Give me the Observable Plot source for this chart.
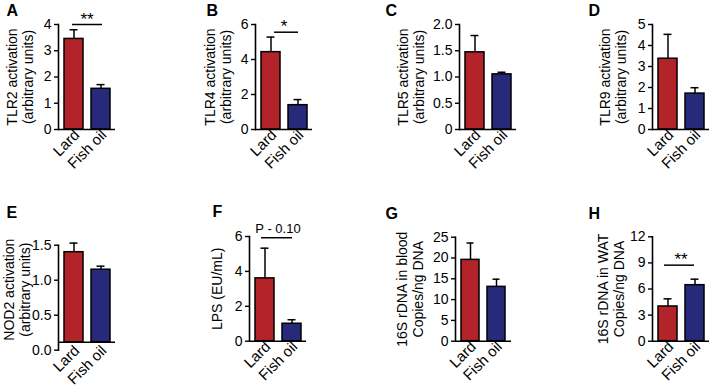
<!DOCTYPE html>
<html><head><meta charset="utf-8">
<script src="https://cdn.jsdelivr.net/npm/d3@7"></script>
<script src="https://cdn.jsdelivr.net/npm/@observablehq/plot@0.6"></script>
<style>
body{margin:0;background:#fff;}
#fig{position:relative;width:709px;height:388px;background:#fff;}
#fig > svg{position:absolute;}
</style></head><body><div id="fig"></div>
<script>
// ---- data ----
const groups = ["Lard", "Fish oil"];
const panelIds = ["A", "B", "C", "D", "E", "F", "G", "H"];
const yLabels = [
  "TLR2 activation\n(arbitrary units)",
  "TLR4 activation\n(arbitrary units)",
  "TLR5 activation\n(arbitrary units)",
  "TLR9 activation\n(arbitrary units)",
  "NOD2 activation\n(arbitrary units)",
  "LPS (EU/mL)",
  "16S rDNA in blood\nCopies/ng DNA",
  "16S rDNA in WAT\nCopies/ng DNA"
];
const lardMean = [3.45, 4.42, 1.47, 3.37, 1.40, 3.60, 19.55, 3.99];
const lardSem  = [0.35, 0.86, 0.32, 1.16, 0.13, 1.73, 4.05, 0.88];
const fishMean = [1.55, 1.39, 1.05, 1.71, 1.15, 1.00, 13.06, 6.44];
const fishSem  = [0.16, 0.32, 0.04, 0.28, 0.05, 0.23, 1.84, 0.69];
const yTickLabels = [
  ["0", "1", "2", "3", "4"],
  ["0", "2", "4", "6"],
  ["0", "0.5", "1.0", "1.5", "2.0"],
  ["0", "1", "2", "3", "4", "5"],
  ["0.0", "0.5", "1.0", "1.5"],
  ["0", "2", "4", "6"],
  ["0", "5", "10", "15", "20", "25"],
  ["0", "3", "6", "9", "12"]
];
const axisBase = [0, 0, 0, 0, 0.114, 0, 0, 0];
const sigLabels = ["**", "*", null, null, null, "P - 0.10", null, "**"];
const sigLevels = [4.0, 5.56, null, null, null, 5.93, null, 8.74];

// ---- layout (pixels) ----
const colLeft = [0, 177, 354, 531];
const colWidth = [177, 177, 177, 178];
const rowTop = [0, 194];
const rowHeight = 194;
const layout = [
  {axisX: 58,  xEnd: 115, top: 24,    zero: 129,   labelDx: -39, labelDy: 0,  catDy: 0,  sigInset: [14, 13], letterX: 6,   letterY: 15},
  {axisX: 255, xEnd: 312, top: 24,    zero: 129,   labelDx: -38, labelDy: 0,  catDy: 0,  sigInset: [19, 14], letterX: 206, letterY: 15},
  {axisX: 459, xEnd: 516, top: 24,    zero: 129,   labelDx: -49, labelDy: 0,  catDy: 0,  sigInset: [0, 0],   letterX: 385, letterY: 15},
  {axisX: 652, xEnd: 709, top: 24,    zero: 129,   labelDx: -40, labelDy: 0,  catDy: 0,  sigInset: [0, 0],   letterX: 588, letterY: 15},
  {axisX: 58,  xEnd: 115, top: 244.7, zero: 349.7, labelDx: -42, labelDy: -8, catDy: -5, sigInset: [0, 0],   letterX: 6,   letterY: 217},
  {axisX: 249, xEnd: 306, top: 236,   zero: 340.7, labelDx: -33, labelDy: 0,  catDy: 0,  sigInset: [12, 14], letterX: 212, letterY: 216},
  {axisX: 455, xEnd: 511, top: 236.7, zero: 340.7, labelDx: -46, labelDy: 0,  catDy: 0,  sigInset: [0, 0],   letterX: 385, letterY: 218},
  {axisX: 652, xEnd: 709, top: 236.3, zero: 340.7, labelDx: -42, labelDy: 0,  catDy: 0,  sigInset: [12, 15], letterX: 588, letterY: 218}
];
const colors = ["#b3232a", "#27297a"];
const font = "'Liberation Sans', Arial, Helvetica, sans-serif";

const fig = document.getElementById("fig");

panelIds.forEach((id, i) => {
  const col = i % 4, row = Math.floor(i / 4);
  const L = layout[i];
  const left = colLeft[col], top = rowTop[row], width = colWidth[col];
  const ticks = yTickLabels[i].map(Number);
  const yMax = ticks[ticks.length - 1];
  const base = axisBase[i];
  const rows = [
    {group: groups[0], mean: lardMean[i], upper: lardMean[i] + lardSem[i], base},
    {group: groups[1], mean: fishMean[i], upper: fishMean[i] + fishSem[i], base}
  ];
  const marginLeft = L.axisX - left;
  const marginRight = Math.max(0, left + width - L.xEnd);
  const marginTop = L.top - top;
  const marginBottom = top + rowHeight - L.zero;
  const fmt = new Map(ticks.map((t, k) => [t, yTickLabels[i][k]]));

  const marks = [
    Plot.ruleX(rows, {x: "group", y1: "mean", y2: "upper", stroke: "black", strokeWidth: 1.5}),
    Plot.tickY(rows, {x: "group", y: "upper", stroke: "black", strokeWidth: 1.5, insetLeft: 5.5, insetRight: 5.5}),
    Plot.barY(rows, {x: "group", y1: "base", y2: "mean", fill: "group", stroke: "black", strokeWidth: 1.5}),
    Plot.frame({anchor: "left", stroke: "black", strokeWidth: 1.6}),
    Plot.ruleY([base], {stroke: "black", strokeWidth: 1.6}),
    Plot.axisY({ticks, tickFormat: d => fmt.get(d), tickSize: 4, tickPadding: 3, strokeWidth: 1.4, label: null, fontSize: 14}),
    Plot.axisX({tickRotate: -45, tickSize: 0, tickPadding: 3, fontSize: 15, label: null, dx: 3, dy: L.catDy}),
    Plot.text([yLabels[i]], {
      text: d => d, frameAnchor: "left", rotate: -90, dx: L.labelDx, dy: L.labelDy,
      textAnchor: "middle", lineAnchor: "middle", lineHeight: 1.15, fontSize: 14
    }),
    Plot.text([id], {
      text: d => d, frameAnchor: "top-left", textAnchor: "start", lineAnchor: "bottom",
      dx: L.letterX - L.axisX, dy: L.letterY - L.top, fontSize: 16, fontWeight: "bold"
    })
  ];
  if (sigLabels[i]) {
    marks.push(Plot.ruleY([sigLevels[i]], {stroke: "black", strokeWidth: 1.5, insetLeft: L.sigInset[0], insetRight: L.sigInset[1]}));
    const isStar = sigLabels[i].startsWith("*");
    marks.push(Plot.text([sigLevels[i]], {
      y: d => d, text: () => sigLabels[i], textAnchor: "middle", lineAnchor: "bottom",
      dy: isStar ? 0 : -5, fontSize: isStar ? 17 : 13
    }));
  }

  const svg = Plot.plot({
    width, height: rowHeight,
    marginLeft, marginRight, marginTop, marginBottom,
    style: {fontFamily: font, fontSize: "14px", color: "black", background: "transparent", overflow: "visible"},
    x: {domain: groups, paddingInner: 0.3, paddingOuter: 0.2, axis: null},
    y: {domain: [0, yMax], axis: null},
    color: {domain: groups, range: colors},
    marks
  });
  svg.style.left = left + "px";
  svg.style.top = top + "px";
  fig.appendChild(svg);
});
</script>
</body></html>
